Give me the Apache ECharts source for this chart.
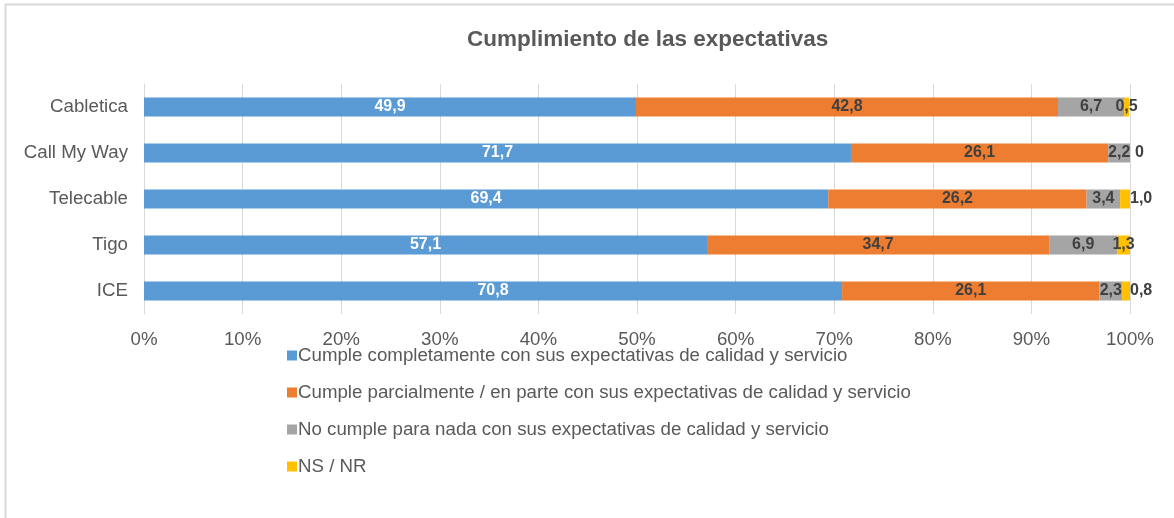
<!DOCTYPE html>
<html>
<head>
<meta charset="utf-8">
<script src="https://cdn.jsdelivr.net/npm/echarts@6/dist/echarts.min.js"></script>
<style>
  html, body { margin: 0; padding: 0; background: #fff; }
  #chart-box { width: 1174px; height: 518px; }
</style>
</head>
<body>
<div id="chart-box"></div>
<script>
const categories = ['Cabletica', 'Call My Way', 'Telecable', 'Tigo', 'ICE'];
const seriesNames = [
    'Cumple completamente con sus expectativas de calidad y servicio',
    'Cumple parcialmente / en parte con sus expectativas de calidad y servicio',
    'No cumple para nada con sus expectativas de calidad y servicio',
    'NS / NR'
];
const cumpleTotal = [49.9, 71.7, 69.4, 57.1, 70.8];
const cumpleParcial = [42.8, 26.1, 26.2, 34.7, 26.1];
const noCumple = [6.7, 2.2, 3.4, 6.9, 2.3];
const nsnr = [0.5, 0, 1.0, 1.3, 0.8];
const xTicks = [0, 10, 20, 30, 40, 50, 60, 70, 80, 90, 100];

function init(){
    const element = document.getElementById('chart-box');
    const instance = echarts.init(element);

    const fmt = function(p){
        return p.value === 0 ? '0' : p.value.toFixed(1).replace('.', ',');
    };
    const colors = ['#5B9BD5', '#ED7D31', '#A5A5A5', '#FFC000'];
    const values = [cumpleTotal, cumpleParcial, noCumple, nsnr];

    const series = values.map(function(vals, i){
        let data = vals;
        if (i === 3) {
            // small segments: some labels centred, others beside the bar
            data = vals.map(function(v, j){
                const inside = (j === 0 || j === 3);
                return { value: v, label: { position: inside ? 'inside' : 'right', distance: j === 1 ? 5 : 0 } };
            });
        }
        return {
            name: seriesNames[i],
            type: 'bar',
            stack: 'total',
            barWidth: 19,
            data: data,
            itemStyle: { color: colors[i] },
            label: {
                show: true,
                position: 'inside',
                formatter: fmt,
                color: i === 0 ? '#ffffff' : '#404040',
                fontWeight: 'bold',
                fontSize: 16,
                fontFamily: 'Liberation Sans, Arial, sans-serif'
            }
        };
    });

    let option = {
        animation: false,
        textStyle: { fontFamily: 'Liberation Sans, Arial, sans-serif' },
        title: {
            text: 'Cumplimiento de las expectativas',
            left: 462,
            top: 23,
            textStyle: {
                color: '#595959',
                fontSize: 22.5,
                fontWeight: 'bold',
                fontFamily: 'Liberation Sans, Arial, sans-serif'
            }
        },
        graphic: [{
            type: 'rect',
            shape: { x: 5.5, y: 4.5, width: 1200, height: 600 },
            style: { fill: 'none', stroke: '#d9d9d9', lineWidth: 2 },
            silent: true
        }],
        legend: {
            orient: 'vertical',
            left: 282,
            top: 341,
            itemWidth: 10,
            itemHeight: 10,
            itemGap: 18,
            icon: 'rect',
            data: seriesNames,
            textStyle: {
                color: '#595959',
                fontSize: 18.7,
                padding: [0, 0, 0, -4],
                fontFamily: 'Liberation Sans, Arial, sans-serif'
            }
        },
        grid: {
            left: 144,
            right: 44,
            top: 84,
            height: 230,
            containLabel: false
        },
        xAxis: {
            type: 'value',
            min: xTicks[0],
            max: xTicks[xTicks.length - 1],
            interval: 10,
            axisLine: { show: false },
            axisTick: { show: false },
            splitLine: { show: true, lineStyle: { color: '#d9d9d9', width: 1 } },
            axisLabel: {
                formatter: '{value}%',
                color: '#595959',
                fontSize: 18.7,
                margin: 16
            }
        },
        yAxis: {
            type: 'category',
            inverse: true,
            data: categories,
            axisLine: { show: true, lineStyle: { color: '#d9d9d9' } },
            axisTick: { show: false },
            axisLabel: {
                color: '#595959',
                fontSize: 18.7,
                margin: 16
            }
        },
        series: series
    };

    instance && instance.setOption(option);

    window.onresize = function(){
        instance.resize();
    };
}
init();
</script>
</body>
</html>
